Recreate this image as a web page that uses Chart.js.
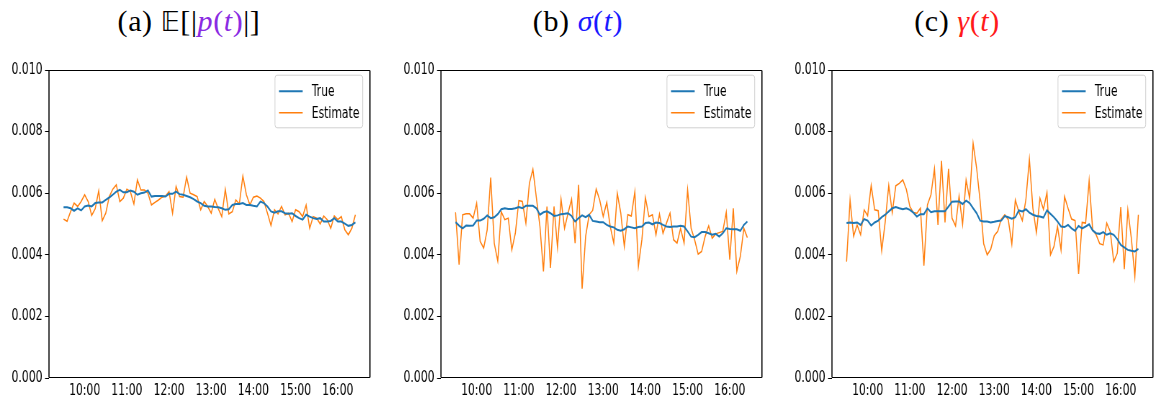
<!DOCTYPE html>
<html><head><meta charset="utf-8">
<script src="https://cdn.jsdelivr.net/npm/chart.js@4.4.1/dist/chart.umd.min.js"></script>
<style>
html,body{margin:0;padding:0;background:#fff;width:1154px;height:402px;overflow:hidden;position:relative}
.panel{position:absolute;top:0;width:545px;height:402px;transform:scaleX(0.72);transform-origin:0 0}
.title{position:absolute;top:6px;font-family:"Liberation Serif","DejaVu Serif",serif;font-size:30px;line-height:30px;white-space:nowrap;transform:translateX(-50%);color:#000;letter-spacing:0.6px}
.bb{font-family:"DejaVu Sans","DejaVu Serif","Noto Sans",serif;font-size:26px}
</style></head><body>
<div class="title" style="left:189px">(a) <span class="bb">𝔼</span>[|<span style="color:#8a2be2"><i>p</i>(<i>t</i>)</span>|]</div>
<div class="title" style="left:578px">(b) <span style="color:#1a1aff"><i>σ</i>(<i>t</i>)</span></div>
<div class="title" style="left:957px">(c) <span style="color:#ff1a1a"><i>γ</i>(<i>t</i>)</span></div>
<div class="panel" style="left:0px"><canvas id="cA" width="545" height="402"></canvas></div>
<div class="panel" style="left:392px"><canvas id="cB" width="545" height="402"></canvas></div>
<div class="panel" style="left:783px"><canvas id="cC" width="545" height="402"></canvas></div>
<script>
const times = [
"09:30","09:35","09:40","09:45","09:50","09:55",
"10:00","10:05","10:10","10:15","10:20","10:25","10:30","10:35","10:40","10:45","10:50","10:55",
"11:00","11:05","11:10","11:15","11:20","11:25","11:30","11:35","11:40","11:45","11:50","11:55",
"12:00","12:05","12:10","12:15","12:20","12:25","12:30","12:35","12:40","12:45","12:50","12:55",
"13:00","13:05","13:10","13:15","13:20","13:25","13:30","13:35","13:40","13:45","13:50","13:55",
"14:00","14:05","14:10","14:15","14:20","14:25","14:30","14:35","14:40","14:45","14:50","14:55",
"15:00","15:05","15:10","15:15","15:20","15:25","15:30","15:35","15:40","15:45","15:50","15:55",
"16:00","16:05","16:10","16:15","16:20","16:25"];

const xTickLabels = ["10:00","11:00","12:00","13:00","14:00","15:00","16:00"];
const yTickValues = [0.000,0.002,0.004,0.006,0.008,0.010];
const seriesLabels = ["True","Estimate"];

const trueA = [0.00554,0.00554,0.00551,0.00543,0.00551,0.00544,0.00557,0.00560,0.00557,0.00568,
0.00570,0.00570,0.00578,0.00586,0.00595,0.00605,0.00611,0.00603,0.00603,0.00609,
0.00605,0.00595,0.00600,0.00602,0.00609,0.00589,0.00591,0.00591,0.00591,0.00589,
0.00598,0.00598,0.00605,0.00597,0.00595,0.00591,0.00587,0.00581,0.00573,0.00568,
0.00559,0.00557,0.00557,0.00555,0.00554,0.00551,0.00546,0.00548,0.00562,0.00565,
0.00565,0.00568,0.00562,0.00562,0.00559,0.00557,0.00573,0.00568,0.00557,0.00541,
0.00537,0.00541,0.00541,0.00535,0.00533,0.00535,0.00526,0.00519,0.00514,0.00530,
0.00524,0.00519,0.00516,0.00519,0.00508,0.00508,0.00510,0.00519,0.00508,0.00508,
0.00501,0.00494,0.00497,0.00505];
const estA = [0.00516,0.00509,0.00540,0.00568,0.00557,0.00573,0.00595,0.00573,0.00528,0.00550,
0.00608,0.00511,0.00535,0.00589,0.00613,0.00627,0.00573,0.00584,0.00613,0.00605,
0.00565,0.00643,0.00610,0.00610,0.00600,0.00562,0.00570,0.00578,0.00587,0.00591,
0.00605,0.00535,0.00622,0.00589,0.00587,0.00652,0.00600,0.00595,0.00589,0.00546,
0.00573,0.00557,0.00535,0.00580,0.00550,0.00524,0.00613,0.00533,0.00540,0.00578,
0.00565,0.00656,0.00595,0.00562,0.00587,0.00591,0.00584,0.00573,0.00535,0.00495,
0.00546,0.00533,0.00557,0.00530,0.00535,0.00508,0.00546,0.00540,0.00524,0.00562,
0.00486,0.00524,0.00519,0.00500,0.00526,0.00514,0.00486,0.00526,0.00514,0.00524,
0.00481,0.00465,0.00486,0.00530];

const trueB = [0.00506,0.00495,0.00486,0.00495,0.00494,0.00495,0.00511,0.00511,0.00517,0.00528,
0.00519,0.00522,0.00532,0.00548,0.00551,0.00549,0.00549,0.00551,0.00555,0.00551,
0.00559,0.00559,0.00559,0.00551,0.00530,0.00538,0.00541,0.00535,0.00526,0.00528,
0.00532,0.00533,0.00535,0.00526,0.00508,0.00519,0.00528,0.00522,0.00530,0.00510,
0.00508,0.00506,0.00506,0.00497,0.00492,0.00489,0.00481,0.00478,0.00483,0.00492,
0.00489,0.00486,0.00490,0.00492,0.00503,0.00505,0.00499,0.00505,0.00503,0.00497,
0.00492,0.00490,0.00492,0.00492,0.00494,0.00492,0.00476,0.00459,0.00457,0.00465,
0.00474,0.00474,0.00470,0.00465,0.00468,0.00459,0.00470,0.00486,0.00484,0.00483,
0.00483,0.00478,0.00497,0.00508];
const estB = [0.00538,0.00368,0.00530,0.00533,0.00533,0.00519,0.00568,0.00443,0.00422,0.00481,
0.00651,0.00438,0.00380,0.00540,0.00514,0.00519,0.00416,0.00470,0.00576,0.00573,
0.00503,0.00632,0.00678,0.00584,0.00492,0.00346,0.00557,0.00357,0.00557,0.00424,
0.00581,0.00486,0.00535,0.00581,0.00438,0.00627,0.00290,0.00460,0.00530,0.00544,
0.00613,0.00578,0.00524,0.00570,0.00492,0.00438,0.00600,0.00535,0.00427,0.00530,
0.00526,0.00605,0.00362,0.00449,0.00586,0.00524,0.00530,0.00465,0.00532,0.00470,
0.00503,0.00535,0.00449,0.00438,0.00486,0.00438,0.00611,0.00486,0.00449,0.00402,
0.00411,0.00460,0.00494,0.00454,0.00468,0.00472,0.00476,0.00538,0.00384,0.00551,
0.00346,0.00395,0.00486,0.00456];

const trueC = [0.00503,0.00505,0.00503,0.00505,0.00497,0.00516,0.00511,0.00495,0.00505,0.00511,
0.00522,0.00530,0.00541,0.00551,0.00555,0.00551,0.00548,0.00551,0.00546,0.00537,
0.00524,0.00532,0.00532,0.00551,0.00538,0.00541,0.00541,0.00541,0.00541,0.00557,
0.00572,0.00573,0.00573,0.00565,0.00576,0.00568,0.00551,0.00535,0.00511,0.00508,
0.00508,0.00505,0.00507,0.00510,0.00511,0.00526,0.00522,0.00517,0.00522,0.00544,
0.00541,0.00548,0.00537,0.00530,0.00526,0.00524,0.00521,0.00544,0.00533,0.00522,
0.00508,0.00492,0.00490,0.00497,0.00486,0.00478,0.00494,0.00486,0.00492,0.00499,
0.00479,0.00470,0.00468,0.00474,0.00465,0.00470,0.00465,0.00451,0.00432,0.00424,
0.00416,0.00413,0.00411,0.00419];
const estC = [0.00378,0.00578,0.00460,0.00497,0.00465,0.00546,0.00527,0.00625,0.00546,0.00543,
0.00413,0.00508,0.00625,0.00537,0.00624,0.00632,0.00643,0.00613,0.00557,0.00537,
0.00535,0.00551,0.00365,0.00562,0.00595,0.00679,0.00497,0.00705,0.00505,0.00679,
0.00519,0.00494,0.00591,0.00499,0.00643,0.00584,0.00762,0.00681,0.00573,0.00436,
0.00400,0.00418,0.00462,0.00476,0.00516,0.00530,0.00514,0.00435,0.00578,0.00540,
0.00511,0.00578,0.00710,0.00551,0.00472,0.00584,0.00548,0.00602,0.00400,0.00427,
0.00492,0.00416,0.00589,0.00551,0.00516,0.00511,0.00338,0.00505,0.00503,0.00641,
0.00481,0.00465,0.00436,0.00432,0.00503,0.00476,0.00378,0.00405,0.00555,0.00353,
0.00546,0.00454,0.00330,0.00530];

const COLORS = {true: '#1f77b4', est: '#ff7f0e'};
const SX = 0.72;
const toMin = s => parseInt(s.slice(0,2),10)*60 + parseInt(s.slice(3),10);
const fmtMin = m => String(Math.floor(m/60)).padStart(2,'0') + ':' + String(Math.round(m%60)).padStart(2,'0');
const tMin = times.map(toMin);
const span = tMin[tMin.length-1] - tMin[0];
const xMin = tMin[0] - 0.05*span, xMax = tMin[tMin.length-1] + 0.05*span;

const FONT = '"DejaVu Sans", sans-serif';
Chart.defaults.font.family = FONT;
Chart.defaults.font.size = 15;
Chart.defaults.color = '#000';

const framePlugin = {
  id: 'mplFrame',
  afterDatasetsDraw(chart) {
    const {ctx, chartArea: a} = chart;
    ctx.save();
    ctx.strokeStyle = '#000';
    ctx.lineWidth = 1;
    const top = Math.round(a.top) + 0.5, bot = Math.round(a.bottom) - 0.5;
    ctx.beginPath();
    ctx.moveTo(a.left, top); ctx.lineTo(a.right, top);
    ctx.moveTo(a.left, bot); ctx.lineTo(a.right, bot);
    ctx.stroke();
    ctx.lineWidth = 1.1 / SX;
    ctx.beginPath();
    ctx.moveTo(a.left, top); ctx.lineTo(a.left, bot);
    ctx.moveTo(a.right, top); ctx.lineTo(a.right, bot);
    ctx.stroke();
    // legend box (upper right)
    const w = 121.8, h = 52.6;
    const lx = a.right - 10.1 - w, ly = a.top + 5.2;
    ctx.fillStyle = 'rgba(255,255,255,0.8)';
    ctx.strokeStyle = '#d0d0d0';
    ctx.lineWidth = 1;
    ctx.beginPath();
    if (ctx.roundRect) ctx.roundRect(lx, ly, w, h, [3]); else ctx.rect(lx, ly, w, h);
    ctx.fill(); ctx.stroke();
    chart.data.datasets.forEach((ds, k) => {
      const yy = ly + 16 + k * 21.6;
      ctx.strokeStyle = ds.borderColor;
      ctx.lineWidth = ds.borderWidth;
      ctx.beginPath(); ctx.moveTo(lx + 5.6, yy); ctx.lineTo(lx + 38.5, yy); ctx.stroke();
      ctx.fillStyle = '#000';
      ctx.font = '15px ' + FONT;
      ctx.textBaseline = 'middle';
      ctx.textAlign = 'left';
      ctx.fillText(ds.label, lx + 51, yy + 1);
    });
    ctx.restore();
  }
};

function makePanel(id, trueVals, estVals) {
  const pts = vals => vals.map((v, i) => ({x: tMin[i], y: v}));
  new Chart(document.getElementById(id), {
    type: 'line',
    data: {
      datasets: [
        {label: seriesLabels[0], data: pts(trueVals), borderColor: COLORS.true, borderWidth: 2, pointRadius: 0, tension: 0, fill: false},
        {label: seriesLabels[1], data: pts(estVals), borderColor: COLORS.est, borderWidth: 1.5, pointRadius: 0, tension: 0, fill: false}
      ]
    },
    options: {
      responsive: false,
      animation: false,
      devicePixelRatio: 1,
      layout: {padding: {top: 70, right: 31.2, bottom: 0, left: 0}},
      plugins: {legend: {display: false}, tooltip: {enabled: false}, title: {display: false}},
      scales: {
        x: {
          type: 'linear', min: xMin, max: xMax,
          afterBuildTicks: ax => { ax.ticks = xTickLabels.map(l => ({value: toMin(l)})); },
          afterFit: s => { s.height = 24; },
          ticks: {callback: v => fmtMin(v), padding: 4, maxRotation: 0, autoSkip: false, color: '#000'},
          grid: {display: false, drawTicks: false},
          border: {display: false}
        },
        y: {
          min: 0, max: 0.01,
          afterBuildTicks: ax => { ax.ticks = yTickValues.map(v => ({value: v})); },
          afterFit: s => { s.width = 68; },
          ticks: {callback: v => Number(v).toFixed(3), padding: 3.5, color: '#000'},
          grid: {drawOnChartArea: false, drawTicks: true, tickLength: 5.5, color: '#000', lineWidth: 1},
          border: {display: false}
        }
      }
    },
    plugins: [framePlugin]
  });
}

makePanel('cA', trueA, estA);
makePanel('cB', trueB, estB);
makePanel('cC', trueC, estC);
</script>
</body></html>
